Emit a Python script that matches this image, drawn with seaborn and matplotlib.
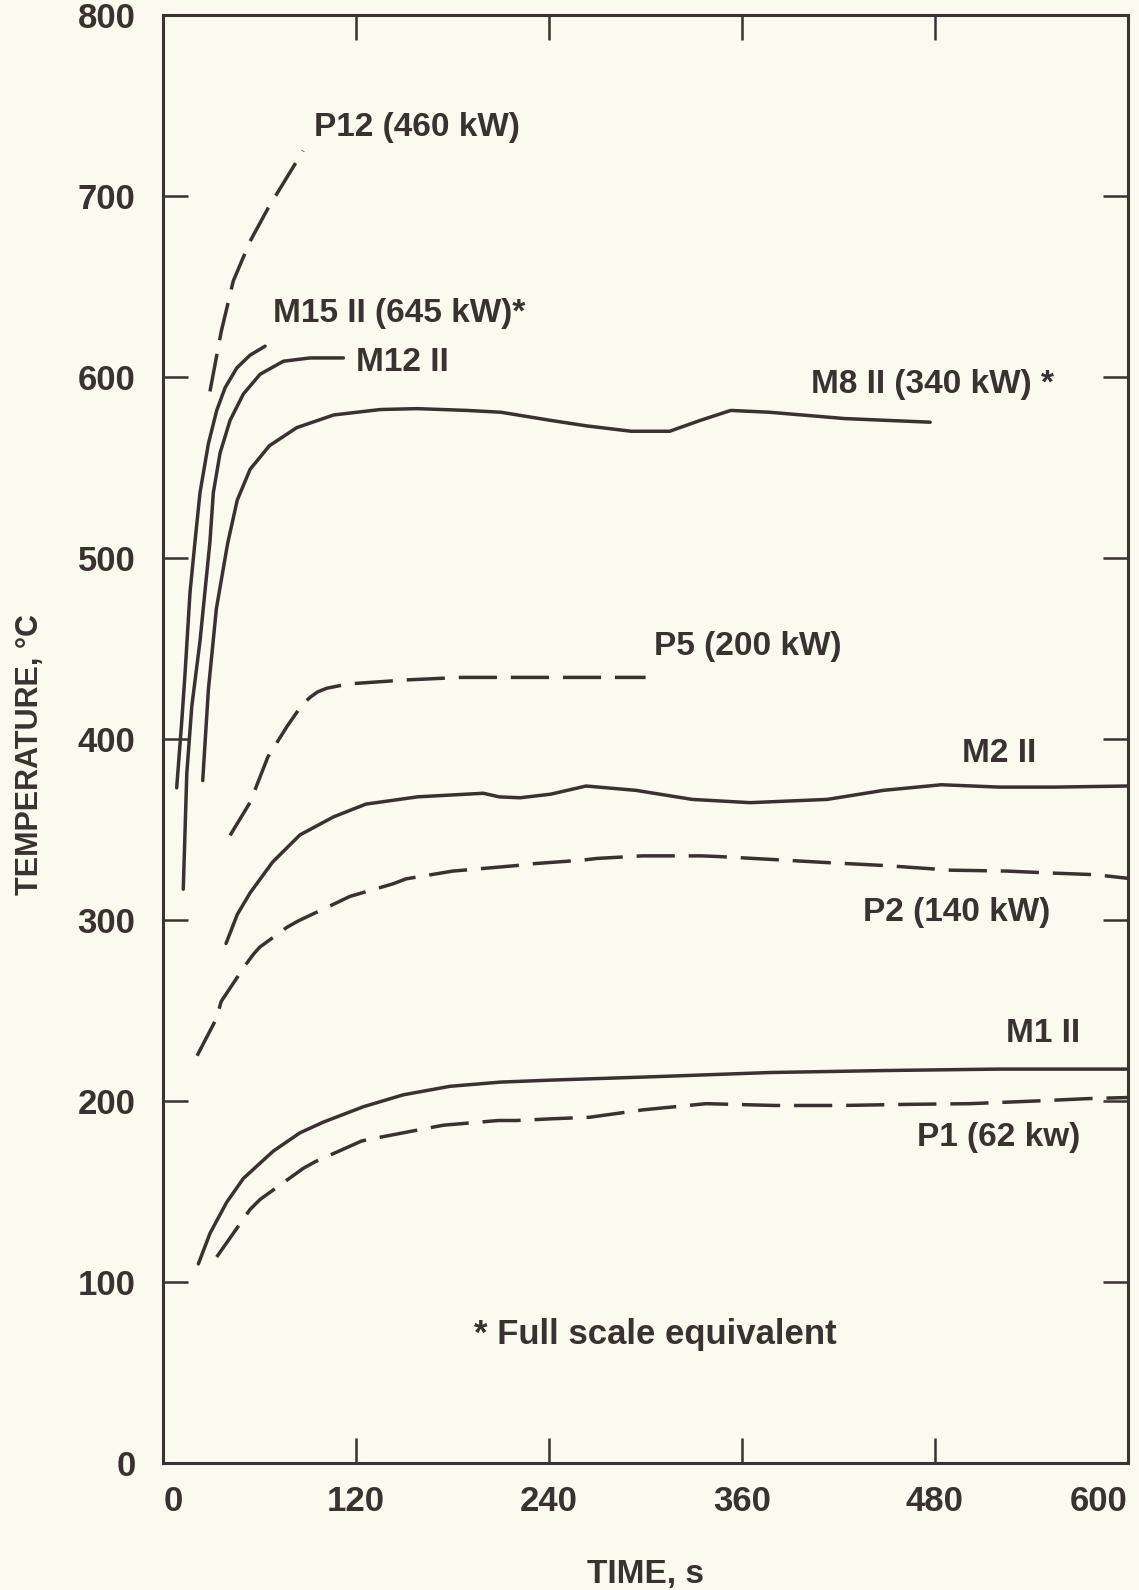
import seaborn as sns
import matplotlib.pyplot as plt

# curves: time (s), temperature (C)
p12_t = [29, 36, 43.5, 54, 65, 76, 87]
p12_T = [592, 625, 653, 675, 693, 709, 725]

m15_t = [8.3, 11.4, 13.5, 16.6, 19.7, 22.8, 28, 33.2, 38.4, 45.7, 53.9, 63.3]
m15_T = [373, 409, 436, 481, 509, 536, 563, 581.5, 594, 605, 612, 617]

m12_t = [12.4, 14.6, 17.7, 22.8, 29, 31.1, 35.3, 41.5, 49.8, 60.2, 74.7, 91.3, 112]
m12_T = [317, 381, 418, 454, 509, 536, 558, 576, 590.6, 601.5, 608.7, 610.5, 610.5]

m8_t = [24.5, 28, 33, 40, 46, 54, 66, 83, 106, 135, 158, 189, 210, 241, 263, 291, 315,
        334, 353, 377, 424, 477]
m8_T = [377, 427, 472, 508, 532, 549, 562, 572, 579, 582, 582.5, 581.5, 580.5, 576, 573,
        570, 570, 576, 581.5, 580.5, 577, 575]

p5_t = [41.5, 54, 65, 77, 86, 91.3, 96, 101.6, 115, 151, 185, 220, 260, 300]
p5_T = [346.7, 365, 390, 407, 418.5, 423, 426, 428, 430.4, 432.6, 434, 434, 434, 434]

m2_t = [39, 46, 54, 68, 85, 106, 126, 158, 199, 209, 222, 241, 263, 294, 329, 365, 413,
        448, 484, 520, 555, 600]
m2_T = [287, 303, 315, 332, 347, 357, 364, 368, 370, 368, 367.5, 369.5, 374, 371.6, 366.6,
        364.8, 366.6, 371.6, 374.7, 373.4, 373.4, 374]

p2_t = [21, 33, 36, 51, 56, 60, 77, 84, 109, 116, 143, 151, 180, 188, 219, 229, 260, 270,
        298, 335, 346, 375, 413, 450, 490, 525, 550, 580, 600]
p2_T = [225, 245.5, 255, 275, 281, 285, 296, 299.5, 310, 313, 320, 322.7, 327, 327.6, 330,
        331, 333, 334, 335.4, 335.4, 335, 333.6, 331.7, 330, 327.5, 327, 326, 325, 323]

m1_t = [21.8, 29.1, 39.4, 49.8, 68.4, 85, 99.5, 124.4, 149.3, 178.4, 209.5, 240.6, 305.6,
        376.9, 448.2, 519.5, 600]
m1_T = [110, 127, 144, 157.2, 172.3, 182.4, 188.3, 196.8, 203.4, 208.1, 210.4, 211.5,
        213.4, 215.7, 216.8, 217.6, 217.6]

p1_t = [33.2, 53.9, 60.2, 87.1, 94.4, 123.4, 132.8, 163.9, 174.2, 208.4, 219.8, 240.6,
        265.2, 298.5, 337.7, 380.5, 422.1, 461.3, 501.7, 543.4, 575.5, 600]
p1_T = [113.8, 140, 145.6, 162.8, 166.4, 177.9, 179.6, 184.9, 186.6, 189.2, 189.2, 190.1,
        191, 195.1, 198.5, 197.5, 197.5, 198.1, 198.5, 200, 201.3, 201.9]

# curve labels: text, left x (s), centre y (C)
label_text = ["P12 (460 kW)", "M15 II (645 kW)*", "M12 II", "M8 II (340 kW) *",
              "P5 (200 kW)", "M2 II", "P2 (140 kW)", "M1 II", "P1 (62 kw)",
              "* Full scale equivalent"]
label_x = [94, 68, 120, 403, 305, 497, 435, 524, 469, 193]
label_y = [738, 635, 608, 596, 451, 392, 304, 237, 180, 71]

x_ticks = [0, 120, 240, 360, 480, 600]
y_ticks = [0, 100, 200, 300, 400, 500, 600, 700, 800]

sns.set_theme(style="ticks")
plt.rcParams["font.family"] = ["Liberation Sans", "DejaVu Sans"]
plt.rcParams["font.weight"] = "bold"

ink = "#3a3131"
paper = "#fafaee"

fig = plt.figure(figsize=(11.39, 15.9), dpi=100, facecolor=paper)
ax = fig.add_axes([0.1434, 0.0799, 0.8468, 0.9107])
ax.set_facecolor(paper)

solid = dict(color=ink, linewidth=2.5)
dashed = dict(color=ink, linewidth=2.5, linestyle=(0, (11, 4)))

sns.lineplot(x=p12_t, y=p12_T, ax=ax, **dashed)
sns.lineplot(x=m15_t, y=m15_T, ax=ax, **solid)
sns.lineplot(x=m12_t, y=m12_T, ax=ax, **solid)
sns.lineplot(x=m8_t, y=m8_T, ax=ax, **solid)
sns.lineplot(x=p5_t, y=p5_T, ax=ax, **dashed)
sns.lineplot(x=m2_t, y=m2_T, ax=ax, **solid)
sns.lineplot(x=p2_t, y=p2_T, ax=ax, **dashed)
sns.lineplot(x=m1_t, y=m1_T, ax=ax, **solid)
sns.lineplot(x=p1_t, y=p1_T, ax=ax, **dashed)

for txt, lx, ly in zip(label_text, label_x, label_y):
    fs = 25 if txt.startswith("*") else 24
    ax.text(lx, ly, txt, ha="left", va="center", fontsize=fs, fontweight="bold", color=ink)

ax.set_xlim(0, 600)
ax.set_ylim(0, 800)
ax.set_xticks(x_ticks)
ax.set_yticks(y_ticks)
ax.tick_params(direction="in", length=18, width=1.8, top=True, right=True,
               labelsize=25, colors=ink, pad=16)
ax.tick_params(axis="y", pad=20)
for lab in ax.get_xticklabels() + ax.get_yticklabels():
    lab.set_fontweight("bold")
xl = ax.get_xticklabels()
xl[0].set_ha("left")
xl[-1].set_ha("right")

for s in ax.spines.values():
    s.set_linewidth(2.2)
    s.set_color(ink)

ax.set_xlabel("TIME, s", fontsize=24, fontweight="bold", color=ink, va="center")
ax.xaxis.set_label_coords(0.5, -0.0767)
ax.set_ylabel("TEMPERATURE, °C", fontsize=22, fontweight="bold", color=ink, va="center")
ax.yaxis.set_label_coords(-0.138, 0.489)

fig.savefig("out.png", dpi=100, facecolor=paper)
